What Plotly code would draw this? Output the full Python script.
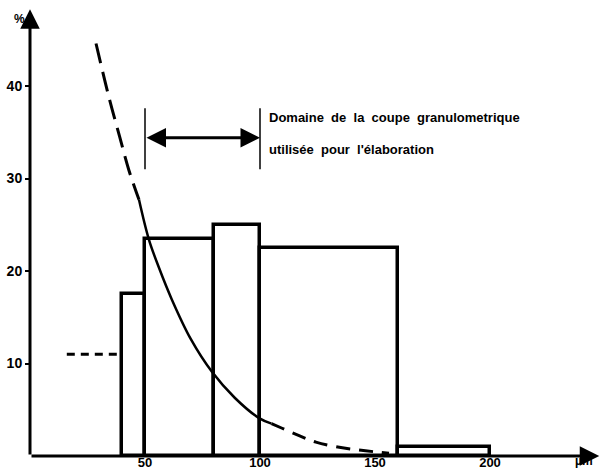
import plotly.graph_objects as go

# Histogram bins (µm) and percentages
bin_left = [40, 50, 80, 100, 160]
bin_right = [50, 80, 100, 160, 200]
bin_pct = [17.5, 23.5, 25, 22.5, 1.0]

# Extension below 40 µm (dashed)
low_x = [16, 40]
low_y = [11, 11]

# Distribution curve
curve_x = [28.7, 34.3, 39.0, 43.0, 47.4, 51.7, 56.0, 61.7, 70.0, 79.1, 89.0, 99.6, 105.0, 109.6, 117.0, 124.3, 133.0, 143.0, 150.0, 156.1]
curve_y = [44.6, 38.8, 34.5, 30.9, 27.7, 23.4, 20.4, 16.9, 12.6, 9.1, 6.3, 4.1, 3.5, 3.0, 2.2, 1.5, 1.0, 0.65, 0.45, 0.3]
solid_from, solid_to = 47.4, 105.0

# Range used for elaboration
dom_lo, dom_hi = 50, 100

y_ticks = [10, 20, 30, 40]
x_ticks = [50, 100, 150, 200]

FONT = "Liberation Sans"
X_MAX, Y_MAX = 248.7, 48.76

fig = go.Figure()

centers = [(a + b) / 2 for a, b in zip(bin_left, bin_right)]
widths = [b - a for a, b in zip(bin_left, bin_right)]
fig.add_trace(go.Bar(x=centers, y=bin_pct, width=widths,
                     marker=dict(color="rgba(0,0,0,0)", line=dict(color="black", width=3.5)),
                     cliponaxis=False, hoverinfo="skip"))

fig.add_trace(go.Scatter(x=low_x, y=low_y, mode="lines",
                         line=dict(color="black", width=3, dash="8px,6px")))

up = [(x, y) for x, y in zip(curve_x, curve_y) if x <= solid_from]
mid = [(x, y) for x, y in zip(curve_x, curve_y) if solid_from <= x <= solid_to]
dn = [(x, y) for x, y in zip(curve_x, curve_y) if x >= solid_to]
fig.add_trace(go.Scatter(x=[p[0] for p in up], y=[p[1] for p in up], mode="lines",
                         line=dict(color="black", width=3, dash="20px,9px", shape="spline")))
fig.add_trace(go.Scatter(x=[p[0] for p in mid], y=[p[1] for p in mid], mode="lines",
                         line=dict(color="black", width=2.5, shape="spline")))
fig.add_trace(go.Scatter(x=[p[0] for p in dn], y=[p[1] for p in dn], mode="lines",
                         line=dict(color="black", width=3, dash="14px,9px", shape="spline")))

# Domain bracket lines
for xv in [dom_lo, dom_hi]:
    fig.add_trace(go.Scatter(x=[xv, xv], y=[31.0, 37.6], mode="lines",
                             line=dict(color="black", width=1.5)))

ann = []
ann.append(dict(x=dom_hi, y=34.4, ax=dom_lo, ay=34.4, xref="x", yref="y", axref="x", ayref="y",
                showarrow=True, arrowhead=2, arrowside="end+start", arrowsize=1.3, arrowwidth=3,
                arrowcolor="black", text=""))
ann.append(dict(x=103, y=36.6, xref="x", yref="y", xanchor="left", yanchor="middle",
                text="<b>Domaine  de  la  coupe  granulometrique</b>", showarrow=False,
                font=dict(family=FONT, size=13, color="black")))
ann.append(dict(x=103, y=33.1, xref="x", yref="y", xanchor="left", yanchor="middle",
                text="<b>utilisée  pour  l'élaboration</b>", showarrow=False,
                font=dict(family=FONT, size=13, color="black")))
ann.append(dict(x=0, y=48.3, ax=0, ay=0, xref="x", yref="y", axref="x", ayref="y",
                showarrow=True, arrowhead=2, arrowsize=1.3, arrowwidth=3, arrowcolor="black", text=""))
ann.append(dict(x=247.5, y=0, ax=0, ay=0, xref="x", yref="y", axref="x", ayref="y",
                showarrow=True, arrowhead=2, arrowsize=1.3, arrowwidth=3, arrowcolor="black", text=""))
ann.append(dict(x=-4.5 / X_MAX, y=47.3 / Y_MAX, xref="paper", yref="paper", text="<b>%</b>",
                showarrow=False, xanchor="center", yanchor="middle",
                font=dict(family=FONT, size=12, color="black")))
ann.append(dict(x=241 / X_MAX, y=-0.55 / Y_MAX, xref="paper", yref="paper", text="<b>µm</b>",
                showarrow=False, xanchor="center", yanchor="middle", borderpad=0,
                font=dict(family=FONT, size=12, color="black")))

fig.update_layout(
    annotations=ann,
    width=602, height=470,
    margin=dict(l=30, r=0, t=5, b=14),
    plot_bgcolor="white", paper_bgcolor="white",
    showlegend=False,
    bargap=0,
    xaxis=dict(range=[0, X_MAX], tickvals=x_ticks, ticktext=["<b>%d</b>" % v for v in x_ticks],
               showgrid=False, zeroline=False, showline=False, ticks="", automargin=False,
               ticklabelstandoff=-3,
               tickfont=dict(family=FONT, size=13, color="black")),
    yaxis=dict(range=[0, Y_MAX], tickvals=y_ticks, ticktext=["<b>%d</b>" % v for v in y_ticks],
               showgrid=False, zeroline=False, showline=False, ticks="outside", ticklen=4,
               tickwidth=2, tickcolor="black", automargin=False,
               tickfont=dict(family=FONT, size=14, color="black")),
)

fig.write_html("out.html", config={"displayModeBar": False},
               post_script="document.body.style.margin='0px';document.body.style.overflow='hidden';")
